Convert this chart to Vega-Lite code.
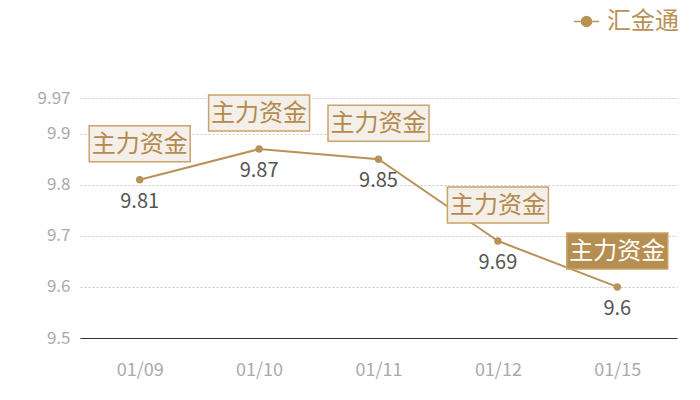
{
  "$schema": "https://vega.github.io/schema/vega-lite/v6.json",
  "autosize": "none",
  "width": 597,
  "height": 240,
  "padding": {"left": 80, "top": 98, "right": 23, "bottom": 62},
  "background": "white",
  "data": {
    "values": [
      {"date": "01/09", "value": 9.81},
      {"date": "01/10", "value": 9.87},
      {"date": "01/11", "value": 9.85},
      {"date": "01/12", "value": 9.69},
      {"date": "01/15", "value": 9.6}
    ]
  },
  "encoding": {
    "x": {
      "field": "date",
      "type": "ordinal",
      "sort": null,
      "title": null,
      "axis": {
        "labelAngle": 0,
        "labelColor": "#aaaaaa",
        "labelFontSize": 18,
        "labelPadding": 23,
        "ticks": false,
        "domain": true,
        "domainColor": "#333333",
        "domainWidth": 1.2,
        "grid": false
      }
    },
    "y": {
      "field": "value",
      "type": "quantitative",
      "title": null,
      "scale": {"domain": [9.5, 9.97], "zero": false, "nice": false},
      "axis": {
        "values": [9.5, 9.6, 9.7, 9.8, 9.9, 9.97],
        "labelExpr": "'' + datum.value",
        "labelColor": "#aaaaaa",
        "labelFontSize": 17,
        "labelPadding": 10,
        "ticks": false,
        "domain": false,
        "grid": true,
        "gridColor": "#c8c8c8",
        "gridDash": [2, 2],
        "gridWidth": 1
      }
    }
  },
  "layer": [
    {
      "mark": {"type": "line", "strokeWidth": 2},
      "encoding": {
        "color": {
          "datum": "汇金通",
          "type": "nominal",
          "scale": {"range": ["#b89256"]},
          "legend": {
            "title": null,
            "orient": "none",
            "legendX": 493,
            "legendY": -90,
            "padding": 0,
            "labelFontSize": 24,
            "labelColor": "#b89256",
            "labelOffset": 7,
            "symbolType": "M-1,0L1,0M0.4,0A0.4,0.4,0,1,1,-0.4,0A0.4,0.4,0,1,1,0.4,0Z",
            "symbolSize": 625,
            "symbolFillColor": "#b89256",
            "symbolStrokeColor": "#b89256",
            "symbolStrokeWidth": 1.5
          }
        }
      }
    },
    {
      "mark": {"type": "point", "filled": true, "size": 55, "color": "#b89256", "opacity": 1}
    },
    {
      "mark": {
        "type": "text",
        "dy": 22,
        "fontSize": 20,
        "color": "#555555"
      },
      "encoding": {
        "text": {"field": "value", "type": "nominal"}
      }
    },
    {
      "mark": {
        "type": "point",
        "shape": "M-1,-0.356H1V0.356H-1Z",
        "size": 10201,
        "filled": true,
        "stroke": "#c9a46a",
        "strokeWidth": 1.5,
        "opacity": 1,
        "yOffset": -36
      },
      "encoding": {
        "fill": {
          "condition": {"test": "datum.date === '01/15'", "value": "#b58e50"},
          "value": "#f4efe8"
        }
      }
    },
    {
      "mark": {
        "type": "text",
        "text": "主力资金",
        "font": "Noto Sans CJK SC",
        "fontSize": 24,
        "yOffset": -35,
        "baseline": "middle"
      },
      "encoding": {
        "color": {
          "condition": {"test": "datum.date === '01/15'", "value": "#ffffff"},
          "value": "#b38b4e"
        }
      }
    }
  ],
  "config": {
    "font": "Noto Sans CJK SC",
    "view": {"stroke": null}
  }
}
